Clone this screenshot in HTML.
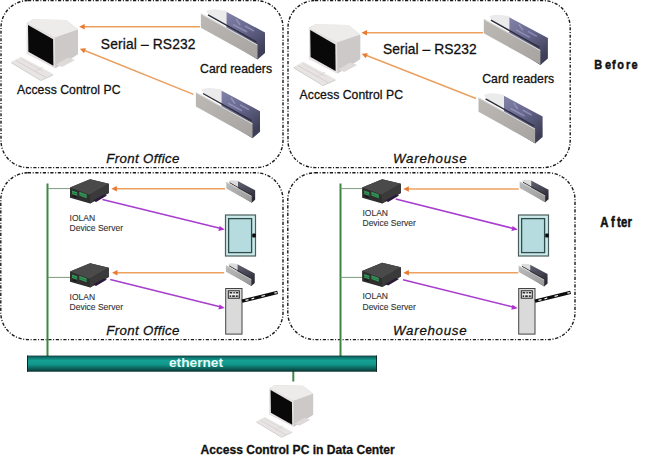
<!DOCTYPE html>
<html><head><meta charset="utf-8">
<style>
html,body{margin:0;padding:0;background:#fff;}
body{width:672px;height:460px;overflow:hidden;position:relative;}
svg{position:absolute;left:0;top:0;}
text{font-family:"Liberation Sans",sans-serif;}
</style></head>
<body>
<svg width="672" height="460" viewBox="0 0 672 460">
<defs>
  <linearGradient id="ethg" x1="0" y1="0" x2="0" y2="1">
    <stop offset="0" stop-color="#0a3030"/>
    <stop offset="0.09" stop-color="#0d6a66"/>
    <stop offset="0.3" stop-color="#13a092"/>
    <stop offset="0.55" stop-color="#11978a"/>
    <stop offset="0.75" stop-color="#0c6c64"/>
    <stop offset="0.9" stop-color="#0a4c48"/>
    <stop offset="1" stop-color="#082a2a"/>
  </linearGradient>
  <linearGradient id="cardg" x1="0" y1="0" x2="0.6" y2="1">
    <stop offset="0" stop-color="#8484aa"/>
    <stop offset="0.5" stop-color="#66668e"/>
    <stop offset="1" stop-color="#3e3e56"/>
  </linearGradient>
  <linearGradient id="wallg" x1="0" y1="0" x2="1" y2="1">
    <stop offset="0" stop-color="#bdbab6"/>
    <stop offset="1" stop-color="#a6a3a0"/>
  </linearGradient>
  <g id="pc">
    <polygon points="26.8,23 32.5,19.5 66,20 78,29.5 78,54 72,58 55.2,68.3 26.8,53.8" fill="#d0cccc"/>
    <polygon points="54.8,37.5 78,29.5 78,54 72,58 55.2,68.3" fill="#cdc9c9"/>
    <polygon points="26.8,23 32.5,19.5 66,20 78,29.5 54.8,37.5" fill="#eeebeb"/>
    <polygon points="26.8,23 54.8,37.5 55.2,68.3 26.8,53.8" fill="#e7e3e3"/>
    <polygon points="28,25 53.1,39.3 53.4,65.8 28.4,51.8" fill="#090909"/>
    <polygon points="56,64.5 68,57.5 75,60 62,67" fill="#dedada"/>
    <polygon points="11.3,62 21.1,56.7 53.2,74.1 40.7,79.9" fill="#e8e4e4"/>
    <polygon points="11.3,62 40.7,79.9 40.9,81 11.5,63.2" fill="#cbc7c7"/>
    <polygon points="40.7,79.9 53.2,74.1 53.3,75.3 40.9,81" fill="#d0cccc"/>
    <line x1="16" y1="60.5" x2="46" y2="77.5" stroke="#d0cccc" stroke-width="0.8"/>
    <line x1="21" y1="59" x2="43" y2="71.2" stroke="#d6d2d2" stroke-width="0.7"/>
    <line x1="34" y1="72" x2="43" y2="67" stroke="#d2cece" stroke-width="0.7"/>
  </g>
  <g id="reader">
    <polygon points="226.3,11.8 265,32.5 265,53 257.5,59.5 226.3,40" fill="url(#cardg)"/>
    <g stroke="#a4a4c4" stroke-width="1.6" opacity="0.6"><line x1="236" y1="19" x2="240" y2="25"/><line x1="233" y1="24.5" x2="247" y2="32"/><line x1="245" y1="26" x2="254" y2="31"/></g>
    <path d="M206.3,11 Q211,7.6 226.3,10.8 L226.3,25.5 L211,17 Z" fill="#ebebeb"/>
    <line x1="208" y1="14.8" x2="256.5" y2="42" stroke="#2c2c3a" stroke-width="1.4"/>
    <polygon points="200.9,13.5 257.5,44.6 257.5,59.2 200.9,27.8" fill="url(#wallg)"/>
    <line x1="201.2" y1="14.1" x2="257.2" y2="45" stroke="#dadada" stroke-width="1"/>
  </g>
  <linearGradient id="scardg" x1="0" y1="0" x2="0.6" y2="1">
    <stop offset="0" stop-color="#606070"/>
    <stop offset="0.6" stop-color="#444452"/>
    <stop offset="1" stop-color="#2a2a34"/>
  </linearGradient>
  <linearGradient id="swallg" x1="0" y1="0" x2="1" y2="1">
    <stop offset="0" stop-color="#bcbcbc"/>
    <stop offset="1" stop-color="#989898"/>
  </linearGradient>
  <g id="sreader">
    <polygon points="226.3,11.2 265,31.8 265,53 257.5,59.5 226.3,40" fill="url(#scardg)"/>
    <path d="M206.3,11 Q211,7.6 226.3,10.8 L226.3,25.5 L211,17 Z" fill="#dcdcdc"/>
    <line x1="208" y1="14.8" x2="256.5" y2="42" stroke="#2c2c34" stroke-width="2"/>
    <polygon points="200.9,13.5 257.5,44.6 257.5,59.2 200.9,27.8" fill="url(#swallg)"/>
    <line x1="201.2" y1="14.3" x2="257.2" y2="45.2" stroke="#d0d0d0" stroke-width="1.6"/>
  </g>
  <g id="iolan">
    <polygon points="70,187.6 90.1,179.2 108.8,183.8 108.8,192.9 90.1,203.5 70,197.8" fill="#2e2e2e"/>
    <polygon points="70,187.6 90.1,179.2 108.8,183.8 89.5,194.8" fill="#4a4a4a"/>
    <polygon points="89.5,194.8 108.8,183.8 108.8,192.9 90.1,203.5" fill="#3a3a3a"/>
    <polygon points="72,190.5 77.2,192.3 77.2,195.8 72,194" fill="#34985a"/><line x1="72.3" y1="192.6" x2="77" y2="194.2" stroke="#1f5a35" stroke-width="0.6"/><polygon points="72.5,195.2 76.5,196.6 76.5,198 72.5,196.6" fill="#151515"/>
    <polygon points="79.3,191.8 86.7,194.4 86.7,198.2 79.3,195.6" fill="#34985a"/><line x1="79.6" y1="194" x2="86.4" y2="196.4" stroke="#1f5a35" stroke-width="0.6"/>
    <polygon points="93,200.5 104,194.5 107,195.5 96,202" fill="#2a1a3a"/>
  </g>
  <g id="door">
    <rect x="225.5" y="215" width="30" height="41" fill="#cdeaea" stroke="#4a5e5e" stroke-width="1.2"/>
    <rect x="228.6" y="218.6" width="23" height="34" fill="#b6dcdf" stroke="#2f4d4d" stroke-width="1.3"/>
    <rect x="252.2" y="233.6" width="3.6" height="3.8" rx="1" fill="#0d0d0d"/>
  </g>
  <g id="gate">
    <rect x="225.7" y="288.5" width="16.3" height="45.6" fill="#dadada" stroke="#444" stroke-width="1"/>
    <rect x="228.3" y="290.8" width="11" height="7.4" fill="#f0f0f0" stroke="#222" stroke-width="1"/>
    <g fill="#2a2a2a"><rect x="229.6" y="292" width="2.6" height="1.5"/><rect x="233.4" y="292" width="1.4" height="1.5"/><rect x="235.8" y="292" width="2.4" height="1.5"/>
    <rect x="229.6" y="295.3" width="1.6" height="1.7"/><rect x="232.2" y="295.3" width="2.6" height="1.7"/><rect x="235.8" y="295.3" width="1.4" height="1.7"/><rect x="237.4" y="295.3" width="0.9" height="1.7"/></g>
    <line x1="242" y1="301.2" x2="277.6" y2="292.4" stroke="#0d0d0d" stroke-width="3.4"/>
    <g stroke="#f4f4f4" stroke-width="1.2">
      <line x1="245.5" y1="300.4" x2="248.5" y2="299.6"/>
      <line x1="251.5" y1="298.9" x2="254.2" y2="298.2"/>
      <line x1="261.5" y1="296.4" x2="265" y2="295.5"/>
      <line x1="274.4" y1="293.2" x2="276.8" y2="292.6"/>
    </g>
  </g>
  <marker id="ao" viewBox="0 0 10 10" refX="0" refY="5" markerWidth="5" markerHeight="5" orient="auto-start-reverse" markerUnits="userSpaceOnUse">
    <path d="M0,5 L10,0 L10,10 Z" fill="#e97a30"/>
  </marker>
  <marker id="am" viewBox="0 0 10 10" refX="10" refY="5" markerWidth="5" markerHeight="5" orient="auto" markerUnits="userSpaceOnUse">
    <path d="M0,0 L10,5 L0,10 Z" fill="#b030d0"/>
  </marker>
</defs>

<!-- boxes -->
<g fill="none" stroke="#1a1a1a" stroke-width="1.4" stroke-dasharray="3.2 1.7 1 1.6">
  <rect x="1" y="0.6" width="282" height="167" rx="27" ry="27"/>
  <rect x="288" y="0.6" width="282.2" height="167" rx="27" ry="27"/>
  <rect x="0.8" y="172.8" width="282.2" height="166.8" rx="27" ry="27"/>
  <rect x="287.8" y="172.8" width="287.2" height="166.8" rx="27" ry="27"/>
</g>

<!-- before: box1 -->
<use href="#pc"/>
<use href="#reader"/>
<use href="#reader" transform="translate(-5,78.7)"/>
<line x1="200" y1="26.8" x2="83" y2="26.8" stroke="#eea05e" stroke-width="1.6"/>
<path d="M79.2,26.8 L84.7,24.1 L84.7,29.5 Z" fill="#e97a30"/>
<line x1="193.5" y1="94.4" x2="84" y2="50.3" stroke="#e9a060" stroke-width="1.5"/>
<path d="M79.9,48.7 L86.0,48.2 L84.0,53.3 Z" fill="#e97a30"/>

<!-- box2 -->
<use href="#pc" transform="translate(282.2,5.1)"/>
<use href="#reader" transform="translate(282.9,5.4)"/>
<use href="#reader" transform="translate(277.6,84)"/>
<line x1="483" y1="32.8" x2="365" y2="32.8" stroke="#eea05e" stroke-width="1.6"/>
<path d="M361.5,32.8 L367.0,30.1 L367.0,35.5 Z" fill="#e97a30"/>
<line x1="476" y1="98.5" x2="366" y2="55.3" stroke="#e9a060" stroke-width="1.5"/>
<path d="M361.7,53.7 L367.8,53.2 L365.8,58.3 Z" fill="#e97a30"/>

<!-- after: green lines -->
<line x1="47.5" y1="183.5" x2="47.5" y2="356" stroke="#3d8645" stroke-width="2"/>
<line x1="340.5" y1="183.5" x2="340.5" y2="356" stroke="#3d8645" stroke-width="2"/>
<line x1="47.7" y1="188.6" x2="70" y2="188.6" stroke="#7d9a7d" stroke-width="1"/>
<line x1="47.7" y1="277.4" x2="70" y2="277.4" stroke="#7d9a7d" stroke-width="1"/>
<line x1="340.5" y1="188.6" x2="362" y2="188.6" stroke="#7d9a7d" stroke-width="1"/>
<line x1="340.5" y1="277.4" x2="362" y2="277.4" stroke="#7d9a7d" stroke-width="1"/>
<line x1="293.3" y1="371" x2="293.3" y2="381.5" stroke="#3d8645" stroke-width="2"/>

<!-- box3 -->
<line x1="102.4" y1="199.5" x2="220" y2="228.3" stroke="#a83ccf" stroke-width="1.5"/>
<path d="M224.8,229.5 L219.6,226 L218.4,231 Z" fill="#b030d0"/>
<line x1="110.2" y1="279.4" x2="220" y2="306.8" stroke="#a83ccf" stroke-width="1.5"/>
<path d="M224.8,308 L219.6,304.5 L218.4,309.5 Z" fill="#b030d0"/>
<use href="#iolan"/>
<use href="#iolan" transform="translate(0,84)"/>
<use href="#sreader" transform="translate(135.9,176.0) scale(0.45)"/>
<use href="#sreader" transform="translate(135.5,259.2) scale(0.45)"/>
<line x1="225" y1="188.7" x2="115" y2="188.7" stroke="#eea05e" stroke-width="1.6"/>
<path d="M111.4,188.7 L116.9,186.0 L116.9,191.4 Z" fill="#e97a30"/>
<line x1="224.2" y1="272.8" x2="115.5" y2="272.8" stroke="#eea05e" stroke-width="1.6"/>
<path d="M112.0,272.8 L117.5,270.1 L117.5,275.5 Z" fill="#e97a30"/>
<use href="#door"/>
<use href="#gate"/>

<!-- box4 -->
<line x1="395.7" y1="199" x2="513" y2="228.4" stroke="#a83ccf" stroke-width="1.5"/>
<path d="M517.8,229.5 L512.6,226 L511.4,231 Z" fill="#b030d0"/>
<line x1="403" y1="279.7" x2="513" y2="307" stroke="#a83ccf" stroke-width="1.5"/>
<path d="M517.7,308.2 L512.5,304.7 L511.3,309.7 Z" fill="#b030d0"/>
<use href="#iolan" transform="translate(292.1,0)"/>
<use href="#iolan" transform="translate(292.1,83.5)"/>
<use href="#sreader" transform="translate(429.3,175.5) scale(0.45)"/>
<use href="#sreader" transform="translate(428.3,259.6) scale(0.45)"/>
<line x1="518.7" y1="189" x2="407" y2="189" stroke="#eea05e" stroke-width="1.6"/>
<path d="M403.3,189.0 L408.8,186.3 L408.8,191.7 Z" fill="#e97a30"/>
<line x1="518.3" y1="272.8" x2="407" y2="272.8" stroke="#eea05e" stroke-width="1.6"/>
<path d="M403.4,272.8 L408.9,270.1 L408.9,275.5 Z" fill="#e97a30"/>
<use href="#door" transform="translate(293,0)"/>
<use href="#gate" transform="translate(293,0)"/>

<!-- ethernet -->
<rect x="27" y="355.6" width="350" height="16.1" fill="url(#ethg)"/>
<rect x="27" y="355.6" width="1" height="16.1" fill="#0a2a2a"/>
<rect x="376" y="355.6" width="1" height="16.1" fill="#0a2a2a"/>
<text x="169" y="367.3" font-size="13.7" font-weight="bold" fill="#e6fbf8">ethernet</text>

<use href="#pc" transform="translate(246.8,368.8) scale(0.85)"/>

<!-- texts -->
<g fill="#111" stroke="#111" stroke-width="0.28">
<text class="t" x="100.8" y="48.9" font-size="13.8" textLength="94.7">Serial – RS232</text>
<text class="t" x="17.1" y="93.8" font-size="12.2" textLength="103.4">Access Control PC</text>
<text class="t" x="200" y="72.8" font-size="12.2" textLength="72">Card readers</text>
<text class="t" x="106.2" y="163.3" font-size="13.3" font-style="italic" textLength="73.3">Front Office</text>
<text class="t" x="383" y="53.8" font-size="13.8" textLength="93.7">Serial – RS232</text>
<text class="t" x="299.6" y="98.8" font-size="12.2" textLength="103.4">Access Control PC</text>
<text class="t" x="482.2" y="83.2" font-size="12.2" textLength="72">Card readers</text>
<text class="t" x="393.1" y="163.3" font-size="13.3" font-style="italic" textLength="73.5">Warehouse</text>
<text class="t" x="106.2" y="335.4" font-size="13.3" font-style="italic" textLength="73.3">Front Office</text>
<text class="t" x="393.1" y="335.4" font-size="13.3" font-style="italic" textLength="73.5">Warehouse</text>
<text transform="translate(598.3,69.3) scale(0.8,1)" x="0" y="0" text-anchor="middle" font-size="13.7" font-weight="bold" stroke="#111" stroke-width="0.5">B</text>
<text transform="translate(608.15,69.3) scale(0.8,1)" x="0" y="0" text-anchor="middle" font-size="13.7" font-weight="bold" stroke="#111" stroke-width="0.5">e</text>
<text transform="translate(613.8,69.3) scale(0.8,1)" x="0" y="0" text-anchor="middle" font-size="13.7" font-weight="bold" stroke="#111" stroke-width="0.5">f</text>
<text transform="translate(620.7,69.3) scale(0.8,1)" x="0" y="0" text-anchor="middle" font-size="13.7" font-weight="bold" stroke="#111" stroke-width="0.5">o</text>
<text transform="translate(628.25,69.3) scale(0.8,1)" x="0" y="0" text-anchor="middle" font-size="13.7" font-weight="bold" stroke="#111" stroke-width="0.5">r</text>
<text transform="translate(634.55,69.3) scale(0.8,1)" x="0" y="0" text-anchor="middle" font-size="13.7" font-weight="bold" stroke="#111" stroke-width="0.5">e</text>
<text transform="translate(604.4,226.5) scale(0.8,1)" x="0" y="0" text-anchor="middle" font-size="14.2" font-weight="bold" stroke="#111" stroke-width="0.5">A</text>
<text transform="translate(613,226.5) scale(0.8,1)" x="0" y="0" text-anchor="middle" font-size="14.2" font-weight="bold" stroke="#111" stroke-width="0.5">f</text>
<text transform="translate(619,226.5) scale(0.8,1)" x="0" y="0" text-anchor="middle" font-size="14.2" font-weight="bold" stroke="#111" stroke-width="0.5">t</text>
<text transform="translate(624.15,226.5) scale(0.8,1)" x="0" y="0" text-anchor="middle" font-size="14.2" font-weight="bold" stroke="#111" stroke-width="0.5">e</text>
<text transform="translate(629.65,226.5) scale(0.8,1)" x="0" y="0" text-anchor="middle" font-size="14.2" font-weight="bold" stroke="#111" stroke-width="0.5">r</text>
<text class="t" x="200.5" y="453.9" font-size="12.1" font-weight="bold">Access Control PC in Data Center</text>
</g>
<g fill="#333" stroke="#333" stroke-width="0.12" font-size="8.5">
<text class="t" x="69.6" y="221.1">IOLAN</text>
<text class="t" x="69.6" y="231.4">Device Server</text>
<text class="t" x="69.6" y="299.6">IOLAN</text>
<text class="t" x="69.6" y="309.9">Device Server</text>
<text class="t" x="362.5" y="215.7">IOLAN</text>
<text class="t" x="362.5" y="226.2">Device Server</text>
<text class="t" x="362.5" y="299.4">IOLAN</text>
<text class="t" x="362.5" y="309.7">Device Server</text>
</g>
</svg>
</body></html>
